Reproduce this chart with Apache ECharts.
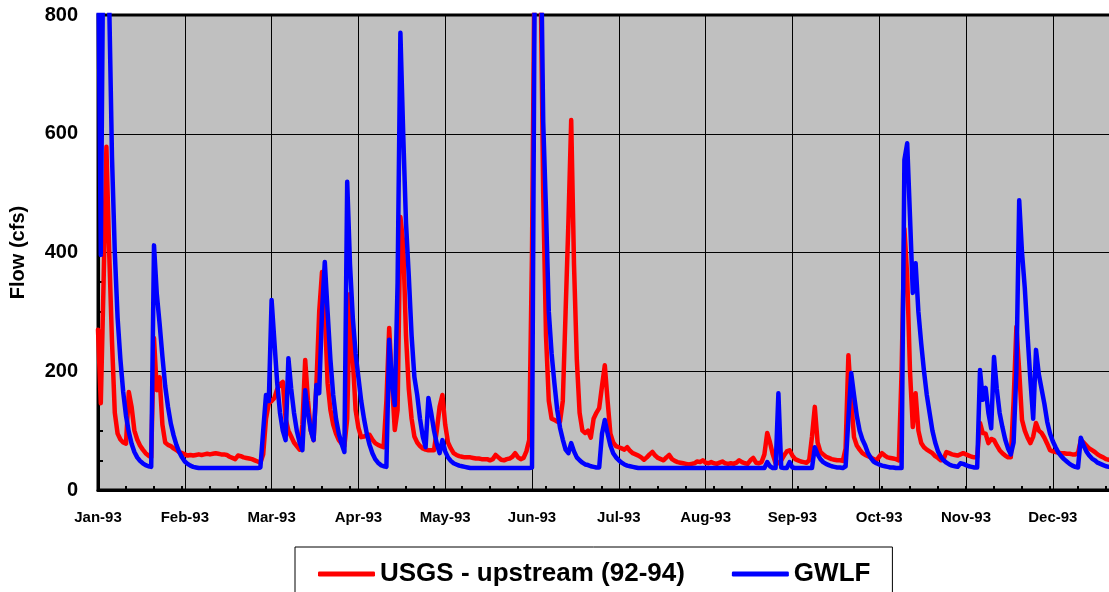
<!DOCTYPE html>
<html>
<head>
<meta charset="utf-8">
<title>Flow 1993</title>
<script src="https://cdn.jsdelivr.net/npm/echarts@6/dist/echarts.min.js"></script>
<style>
    html, body { margin: 0; padding: 0; background: #fff; overflow: hidden; }
    /* chart is a bit wider than the window: the right edge of the plot is cut off */
    #chart { width: 1125px; height: 592px; }
</style>
</head>
<body>
<div id="chart"></div>
<script>
//month labels, one every 31 days on the x axis
var monthLabels = ["Jan-93", "Feb-93", "Mar-93", "Apr-93", "May-93", "Jun-93",
    "Jul-93", "Aug-93", "Sep-93", "Oct-93", "Nov-93", "Dec-93"];
var yTicks = [0, 200, 400, 600, 800];

//daily flow (cfs), day 0 = 1 Jan 1993
var usgsFlow = [
    270, 146, 350, 578, 400, 250, 130, 95, 85, 80,
    78, 165, 140, 100, 85, 75, 68, 62, 58, 55,
    256, 168, 190, 110, 80, 76, 74, 70, 67, 64,
    62, 60, 58, 59, 58, 59, 60, 59, 60, 61,
    60, 61, 62, 61, 60, 60, 59, 56, 54, 52,
    58, 57, 55, 54, 53, 52, 50, 48, 46, 60,
    120, 146, 150, 155, 170, 178, 182, 120, 100, 90,
    80, 74, 68, 110, 219, 150, 100, 84, 178, 300,
    367, 300, 180, 135, 110, 95, 84, 78, 74, 120,
    330, 220, 135, 105, 89, 90, 92, 93, 85, 79,
    76, 74, 72, 150, 273, 180, 101, 135, 460, 416,
    260, 170, 120, 90, 80, 74, 70, 68, 67, 67,
    67, 100, 140, 160, 110, 80, 70, 62, 59, 57,
    56, 55, 55, 55, 54, 53, 53, 52, 52, 52,
    50, 52, 59, 55, 51, 50, 52, 53, 56, 62,
    55, 52, 54, 65, 84, 400, 950, 1000, 900, 500,
    260, 150, 120, 118, 115, 115, 150, 300, 450, 623,
    380, 220, 130, 100, 96, 100, 88, 120, 130, 138,
    175, 210, 150, 95, 80, 74, 72, 70, 68, 72,
    66, 62, 60, 58, 55, 51, 55, 60, 64, 58,
    54, 52, 50, 55, 59, 52, 49, 47, 46, 45,
    44, 43, 44, 45, 48, 47, 50, 46, 45, 47,
    45, 44, 46, 48, 45, 44, 45, 44, 46, 50,
    47, 45, 44, 50, 54, 46, 45, 47, 60, 96,
    80, 60, 45, 45, 50, 58, 65, 67, 58, 52,
    50, 48, 47, 46, 50, 90, 140, 80, 64, 60,
    56, 54, 52, 51, 50, 50, 49, 70, 227, 150,
    89, 75, 68, 62, 59, 57, 55, 52, 50, 56,
    62, 58, 55, 54, 53, 52, 50, 200, 440, 360,
    200, 106, 163, 100, 79, 72, 68, 65, 62, 57,
    54, 50, 52, 64, 62, 60, 59, 58, 60, 62,
    60, 58, 56, 55, 55, 113, 96, 95, 79, 86,
    84, 75, 67, 62, 58, 55, 55, 150, 275, 200,
    118, 100, 88, 79, 90, 113, 100, 96, 88, 78,
    67, 65, 64, 63, 62, 62, 61, 61, 60, 60,
    62, 84, 80, 75, 70, 67, 64, 60, 57, 55,
    52, 51, 50, 50, 49
];
var gwlfFlow = [
    950, 396, 1000, 1000, 820, 560, 400, 290, 220, 165,
    125, 98, 78, 64, 55, 49, 45, 42, 40, 39,
    412, 330, 280, 225, 175, 140, 112, 92, 76, 64,
    55, 48, 44, 41, 39, 38, 37, 37, 37, 37,
    37, 37, 37, 37, 37, 37, 37, 37, 37, 37,
    37, 37, 37, 37, 37, 37, 37, 37, 38, 100,
    160, 150, 320, 250, 180, 130, 100, 84, 222, 170,
    130, 100, 80, 67, 168, 130, 100, 84, 177, 163,
    300, 384, 300, 220, 160, 120, 95, 78, 64, 519,
    380, 290, 230, 190, 150, 120, 95, 76, 62, 52,
    46, 42, 40, 39, 253, 180, 143, 350, 770, 600,
    450, 360, 260, 190, 160, 120, 90, 72, 155, 130,
    100, 78, 62, 84, 65, 55, 49, 45, 43, 41,
    40, 39, 38, 37, 37, 37, 37, 37, 37, 37,
    37, 37, 37, 37, 37, 37, 37, 37, 37, 37,
    37, 37, 37, 37, 37, 38, 900, 1000, 1000, 620,
    470, 300, 230, 180, 135, 105, 85, 68, 62, 79,
    65, 55, 50, 46, 43, 42, 40, 39, 38, 38,
    95, 118, 95, 75, 62, 55, 50, 46, 43, 41,
    40, 39, 38, 37, 37, 37, 37, 37, 37, 37,
    37, 37, 37, 37, 37, 37, 37, 37, 37, 37,
    37, 37, 37, 37, 37, 37, 37, 37, 37, 37,
    37, 37, 37, 37, 37, 37, 37, 37, 37, 37,
    37, 37, 37, 37, 37, 37, 37, 37, 37, 47,
    40, 37, 37, 163, 38, 37, 37, 47, 38, 37,
    37, 37, 37, 37, 37, 37, 72, 60, 52, 47,
    44, 42, 40, 39, 38, 38, 37, 40, 120, 197,
    160, 125, 100, 85, 75, 62, 54, 48, 45, 43,
    41, 40, 39, 38, 38, 37, 37, 37, 556, 584,
    460, 332, 382, 300, 247, 200, 160, 130, 100, 80,
    65, 56, 50, 46, 43, 41, 40, 39, 45, 44,
    42, 40, 39, 38, 38, 202, 152, 172, 130, 104,
    224, 170, 130, 106, 85, 70, 60, 80, 200, 488,
    400, 340, 260, 185, 120, 236, 195, 170, 145, 115,
    95, 82, 72, 63, 57, 52, 48, 44, 41, 39,
    38, 88, 75, 65, 58, 53, 50, 46, 44, 42,
    40, 39, 38, 38, 37
];

(function () {
    var FONT = "Arial, 'Liberation Sans', sans-serif";
    var DAYS = 365;
    var toPairs = function (arr) {
        return arr.map(function (v, i) { return [i, v]; });
    };

    var myChart = echarts.init(document.getElementById("chart"));
    var option = {
        backgroundColor: "#ffffff",
        animation: false,
        grid: {
            left: 97, top: 15, right: 5, bottom: 102,
            show: true,
            backgroundColor: "#c0c0c0",
            borderColor: "#000",
            borderWidth: 3
        },
        legend: {
            left: 295, top: 547,
            padding: [14, 22, 30, 23],
            icon: "roundRect",
            itemWidth: 57, itemHeight: 5, itemGap: 47,
            borderColor: "#000", borderWidth: 1,
            backgroundColor: "#fff",
            textStyle: { fontFamily: FONT, fontWeight: "bold", fontSize: 26, color: "#000" },
            data: ["USGS - upstream (92-94)", "GWLF"]
        },
        xAxis: [{
            //labels and gridlines every 31 days
            type: "value", min: 0, max: DAYS, interval: 31,
            axisLine: { show: true, onZero: false, lineStyle: { color: "#000", width: 3 } },
            axisTick: { show: false },
            splitLine: { show: true, lineStyle: { color: "#000", width: 1 } },
            axisLabel: {
                margin: 20,
                fontFamily: FONT, fontWeight: "bold", fontSize: 15, color: "#000",
                formatter: function (v) {
                    var k = v / 31;
                    return (k % 1 === 0 && monthLabels[k]) ? monthLabels[k] : "";
                }
            }
        }, {
            //small tick marks every 10 days
            type: "value", min: 0, max: DAYS, interval: 10, position: "bottom",
            axisLine: { show: false },
            axisTick: { show: true, inside: true, length: 4, lineStyle: { color: "#000", width: 2 } },
            splitLine: { show: false },
            axisLabel: { show: false }
        }],
        yAxis: {
            type: "value", min: yTicks[0], max: yTicks[yTicks.length - 1], interval: 200,
            name: "Flow (cfs)", nameLocation: "middle", nameGap: 70,
            nameTextStyle: { fontFamily: FONT, fontWeight: "bold", fontSize: 20, color: "#000" },
            axisLine: { show: true, lineStyle: { color: "#000", width: 3 } },
            axisTick: { show: true, inside: true, length: 5, lineStyle: { color: "#000", width: 2 } },
            minorTick: { show: true, splitNumber: 4, length: 5, lineStyle: { color: "#000", width: 2 } },
            splitLine: { show: true, lineStyle: { color: "#000", width: 1 } },
            axisLabel: {
                margin: 20,
                fontFamily: FONT, fontWeight: "bold", fontSize: 20, color: "#000"
            }
        },
        series: [{
            name: "USGS - upstream (92-94)",
            type: "line", xAxisIndex: 0, symbol: "none", clip: true,
            lineStyle: { color: "#ff0000", width: 4.5, join: "round", cap: "round" },
            itemStyle: { color: "#ff0000" },
            data: toPairs(usgsFlow)
        }, {
            name: "GWLF",
            type: "line", xAxisIndex: 0, symbol: "none", clip: true,
            lineStyle: { color: "#0000ff", width: 4.5, join: "round", cap: "round" },
            itemStyle: { color: "#0000ff" },
            data: toPairs(gwlfFlow)
        }]
    };
    myChart.setOption(option);
})();
</script>
</body>
</html>
